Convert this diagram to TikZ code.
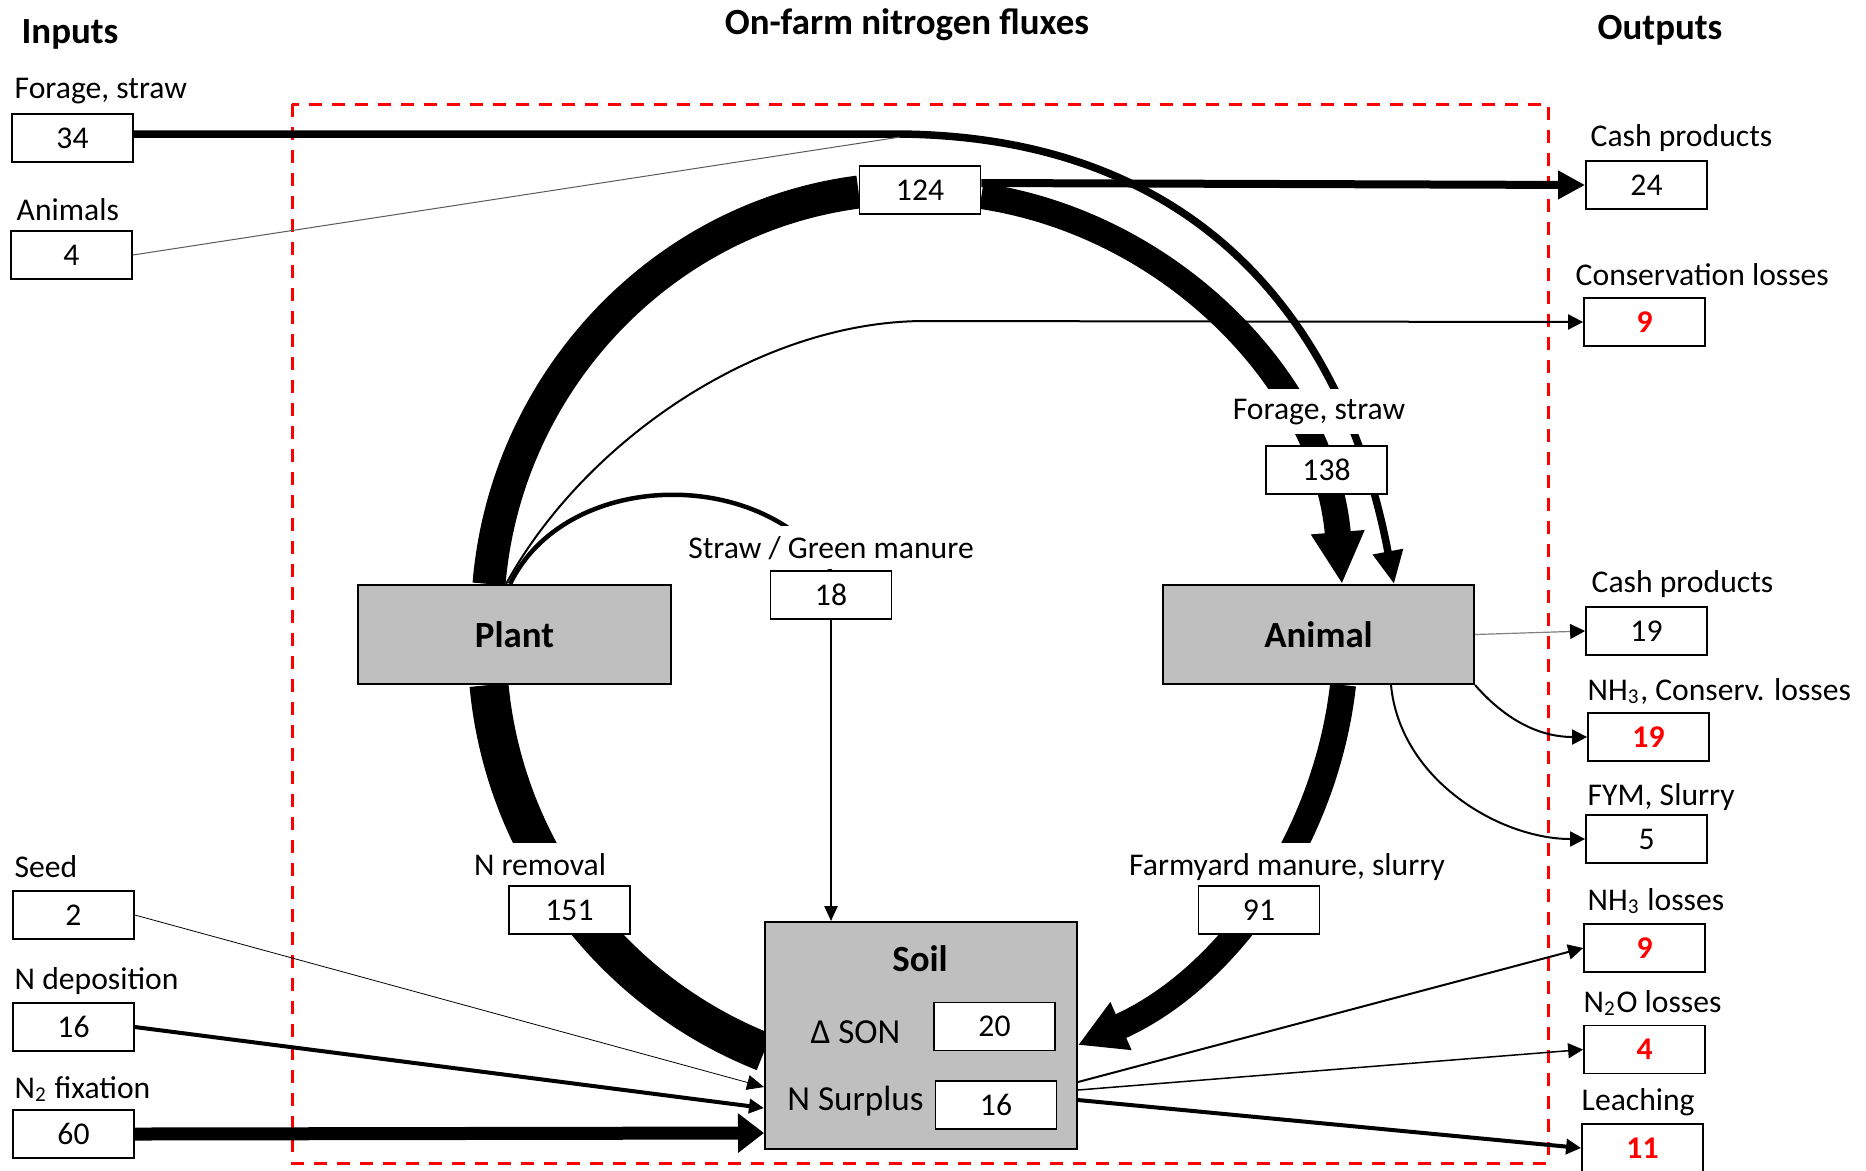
\documentclass[tikz,border=0pt]{standalone}
\usepackage{fontspec}
\setmainfont{Carlito}
\usepackage{xcolor}
\usepackage{tikz}
\usetikzlibrary{arrows.meta}
\definecolor{poolgray}{RGB}{191,191,191}
\pgfdeclarelayer{background}
\pgfsetlayers{background,main}

\begin{document}
\begin{tikzpicture}[x=0.1mm, y=-0.1mm,
    every node/.style={font=\fontsize{9}{10.8}\selectfont},
    numbox/.style={draw, fill=white, line width=0.18mm, minimum width=12.1mm, minimum height=4.8mm, inner sep=0pt},
    lossbox/.style={numbox, text=red, font=\fontsize{9}{10.8}\selectfont\bfseries},
    pool/.style={draw, fill=poolgray, line width=0.2mm, inner sep=0pt, font=\fontsize{10.5}{12}\selectfont\bfseries},
    head/.style={inner sep=0pt, anchor=base, font=\fontsize{10.5}{12}\selectfont\bfseries},
    lbl/.style={inner sep=0pt, anchor=base west},
    flowlbl/.style={fill=white, inner sep=1mm, anchor=base},
    thin/.style={line width=0.2mm, -{Triangle[length=1.5mm, width=1.5mm]}},
]
    \useasboundingbox (0,0) rectangle (1866,1170);

    % headings
    \node[head] (hin) at (70,43) {Inputs};
    \node[head] (htitle) at (907,34) {On-farm nitrogen fluxes};
    \node[head] (hout) at (1660,39) {Outputs};

    % inputs
    \node[lbl] (lfs) at (14,98) {Forage, straw};
    \node[numbox] (b34) at (72.5,138) {34};
    \node[lbl] (lan) at (16,220) {Animals};
    \node[numbox] (b4in) at (71.5,255) {4};
    \node[lbl] (lseed) at (14,877) {Seed};
    \node[numbox] (b2) at (73.5,915) {2};
    \node[lbl] (ldep) at (14,989) {N deposition};
    \node[numbox] (b16d) at (73.5,1027) {16};
    \node[lbl] (lfix) at (14,1098) {N\textsubscript{2} fixation};
    \node[numbox] (b60) at (73.5,1134) {60};

    % outputs
    \node[lbl] (lcash1) at (1590,146) {Cash products};
    \node[numbox] (b24) at (1646.5,185) {24};
    \node[lbl] (lcons) at (1575,285) {Conservation losses};
    \node[lossbox] (b9c) at (1644.5,322) {9};
    \node[lbl] (lcash2) at (1591,592) {Cash products};
    \node[numbox] (b19) at (1646.5,631) {19};
    \node[lbl] (lnhc) at (1587,700) {NH\textsubscript{3}, Conserv. losses};
    \node[lossbox] (b19r) at (1648.5,737) {19};
    \node[lbl] (lfym) at (1587,805) {FYM, Slurry};
    \node[numbox] (b5) at (1646.5,839) {5};
    \node[lbl] (lnh3) at (1587,910) {NH\textsubscript{3} losses};
    \node[lossbox] (b9n) at (1644.5,948) {9};
    \node[lbl] (ln2o) at (1583,1012) {N\textsubscript{2}O losses};
    \node[lossbox] (b4) at (1644.5,1049.5) {4};
    \node[lbl] (lleach) at (1581,1110) {Leaching};
    \node[lossbox] (b11) at (1642.5,1148) {11};

    % pools
    \node[pool, minimum width=31.3mm, minimum height=9.9mm] (plant) at (514.5,634.5) {Plant};
    \node[pool, minimum width=31.1mm, minimum height=9.9mm] (animal) at (1318.5,634.5) {Animal};
    \node[pool, minimum width=31.2mm, minimum height=22.7mm] (soil) at (921,1035.5) {};
    \node[head] (lsoil) at (920,971) {Soil};
    \node[inner sep=0pt, anchor=base, font=\fontsize{10}{12}\selectfont] (lson) at (855.5,1043) {Δ SON};
    \node[inner sep=0pt, anchor=base, font=\fontsize{10}{12}\selectfont] (lsur) at (855.5,1110) {N Surplus};
    \node[numbox] (b20) at (994.5,1026.5) {20};
    \node[numbox] (b16s) at (996,1105) {16};

    % on-farm fluxes
    \node[numbox] (b124) at (920,190) {124};
    \node[flowlbl] (lforage) at (1319,419) {Forage, straw};
    \node[numbox] (b138) at (1326.5,470) {138};
    \node[flowlbl] (lstraw) at (831,558) {Straw / Green manure};
    \node[numbox] (b18) at (831,595) {18};
    \node[flowlbl] (lnrem) at (540,875) {N removal};
    \node[numbox] (b151) at (569.5,910) {151};
    \node[flowlbl] (lfym2) at (1287,875) {Farmyard manure, slurry};
    \node[numbox] (b91) at (1259,910) {91};

    \coordinate (join) at (900,137);

    \begin{pgfonlayer}{background}
    \draw[red, line width=0.3mm, dash pattern=on 1.3mm off 1mm] (292,104) rectangle (1548,1163);

    % bought feed
    \draw[line width=0.75mm, -{Triangle[length=3.3mm, width=2.9mm]}]
        ([yshift=0.4mm]b34.east) -- (893,134) .. controls (1220,134) and (1350,350) .. ([xshift=7.55mm]animal.north);
    \draw[line width=0.1mm, gray!70!black] (b4in.east) -- (join);

    % crop cycle
    \draw[line width=3.3mm] ([xshift=-2.55mm]plant.north) .. controls (505.5,384) and (659.6,217.7) .. ([yshift=-0.2mm]b124.west);
    \draw[line width=2.6mm, -{Triangle[length=5.2mm, width=5mm]}]
        ([yshift=-0.6mm]b124.east) .. controls (1176.6,225.4) and (1325.8,387.5) .. ([xshift=2.35mm]animal.north);
    \draw[line width=0.8mm, -{Triangle[length=2.7mm, width=2.7mm]}] ([yshift=0.7mm]b124.east) -- (b24.west);
    \draw[thin] ([xshift=-0.85mm]plant.north) .. controls (585,440) and (760,321) .. (925,321) -- (b9c.west);
    \draw[line width=0.45mm] ([xshift=-0.45mm]plant.north) .. controls (565,470) and (760,465) .. (b18.north);
    \draw[line width=0.25mm, -{Triangle[length=1.5mm, width=1.3mm]}] (b18.south) -- (b18.south |- soil.north);
    \draw[line width=3.9mm] ([xshift=-2.55mm]plant.south) .. controls (504.3,849.3) and (610.7,990.9) .. ([yshift=-1.65mm]soil.west);
    \draw[line width=2.6mm, -{Triangle[length=4.7mm, width=4.9mm]}]
        ([xshift=2.45mm]animal.south) .. controls (1325.2,842.8) and (1224.2,980.5) .. ([yshift=-0.95mm]soil.east);

    % animal outputs
    \draw[line width=0.12mm, gray, -{Triangle[length=1.5mm, width=1.5mm, color=black]}] (animal.east) -- (b19.west);
    \draw[thin] (animal.south east) .. controls (1510,725) and (1545,737) .. (b19r.west);
    \draw[thin] ([xshift=7.25mm]animal.south) .. controls (1400,780) and (1500,839) .. (b5.west);

    % soil inputs and losses
    \draw[line width=0.08mm, -{Triangle[length=1.7mm, width=1.5mm]}] (b2.east) -- ([yshift=-5.15mm]soil.west);
    \draw[line width=0.4mm, -{Triangle[length=1.5mm, width=1.4mm]}] (b16d.east) -- ([yshift=-7.25mm]soil.west);
    \draw[line width=1.3mm, -{Triangle[length=2.6mm, width=3.8mm]}] (b60.east) -- ([yshift=-9.75mm]soil.west);
    \draw[thin] ([yshift=-4.65mm]soil.east) -- (b9n.west);
    \draw[thin, line width=0.15mm] ([yshift=-5.45mm]soil.east) -- (b4.west);
    \draw[thin, line width=0.4mm] ([yshift=-6.45mm]soil.east) -- (b11.west);
    \end{pgfonlayer}
\end{tikzpicture}
\end{document}
